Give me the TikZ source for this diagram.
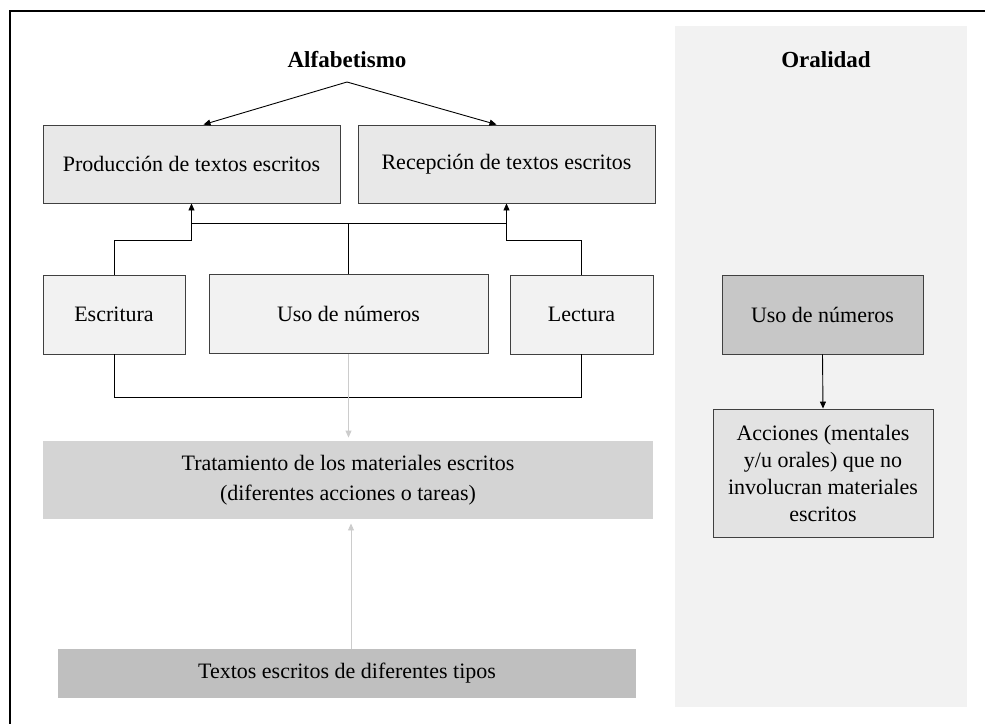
\documentclass[tikz,border=0pt]{standalone}
\usepackage{fontspec}
\setmainfont{Liberation Serif}
\usetikzlibrary{arrows.meta}

\begin{document}
\begin{tikzpicture}[x=1pt, y=-1pt, line width=0.9pt,
 font=\fontsize{22}{27}\selectfont,
 caja/.style={draw=black!75, minimum height=79pt, inner sep=0pt},
 tit/.style={font=\fontsize{23}{27}\selectfont\bfseries},
 flecha/.style={-{Triangle[length=7pt,width=6pt]}},
 gris/.style={draw=black!20, -{Triangle[length=7pt,width=6pt]}}]

\useasboundingbox (0,0) rectangle (985,724);
\fill[black!5] (675,26) rectangle (967,707);
\draw[line width=1.2pt] (985,11) -- (10,11) -- (10,724);

\node[tit] (alf) at (347,60) {Alfabetismo};
\node[tit] (ora) at (826,60) {Oralidad};

\node[caja, fill=black!9, minimum width=297pt, minimum height=78pt] (prod) at (191.5,164) {Producción de textos escritos};
\node[caja, fill=black!9, minimum width=297pt, minimum height=78pt] (rec) at (506.5,164) {Recepción de textos escritos};

\node[caja, fill=black!5, minimum width=142pt] (esc) at (114,314.5) {Escritura};
\node[caja, fill=black!5, minimum width=279pt] (uso) at (348.5,314) {Uso de números};
\node[caja, fill=black!5, minimum width=143pt] (lec) at (581.5,314.5) {Lectura};

\node[fill=black!17, minimum width=610pt, minimum height=78pt, align=center,
 font=\fontsize{22}{30}\selectfont] (trat) at (348,480) {Tratamiento de los materiales escritos\\(diferentes acciones o tareas)};
\node[fill=black!25, minimum width=578pt, minimum height=49pt] (tex) at (347,673.5) {Textos escritos de diferentes tipos};

\node[caja, fill=black!22, minimum width=201pt] (uso2) at (822.5,314.5) {Uso de números};
\node[caja, fill=black!11, minimum width=220pt, minimum height=128pt, align=center] (acc) at (823,473) {Acciones (mentales\\y/u orales) que no\\involucran materiales\\escritos};

% flechas de arriba
\coordinate (cima) at (347,82);
\draw[flecha] (cima) -- ([xshift=12pt]prod.north);
\draw[flecha] (cima) -- ([xshift=-10pt]rec.north);

% conexiones del medio
\coordinate (h1) at ([yshift=-20pt]prod.south);
\coordinate (h2) at ([yshift=-20pt]rec.south);
\draw[flecha] (esc.north) |- ([yshift=-37pt]prod.south) -- (prod.south);
\draw[flecha] (lec.north) |- ([yshift=-37pt]rec.south) -- (rec.south);
\draw (h1) -- (h2);
\draw (uso.north) -- (uso.north |- h1);
\draw (esc.south) -- ++(0,43) -| (lec.south);

% flechas grises
\draw[gris, shorten >=3pt] (uso.south) -- (uso.south |- trat.north);
\draw[gris, shorten >=4pt] ([xshift=4pt]tex.north) -- ([xshift=4pt]tex.north |- trat.south);

\draw[flecha] (uso2.south) -- (acc.north);
\end{tikzpicture}
\end{document}
